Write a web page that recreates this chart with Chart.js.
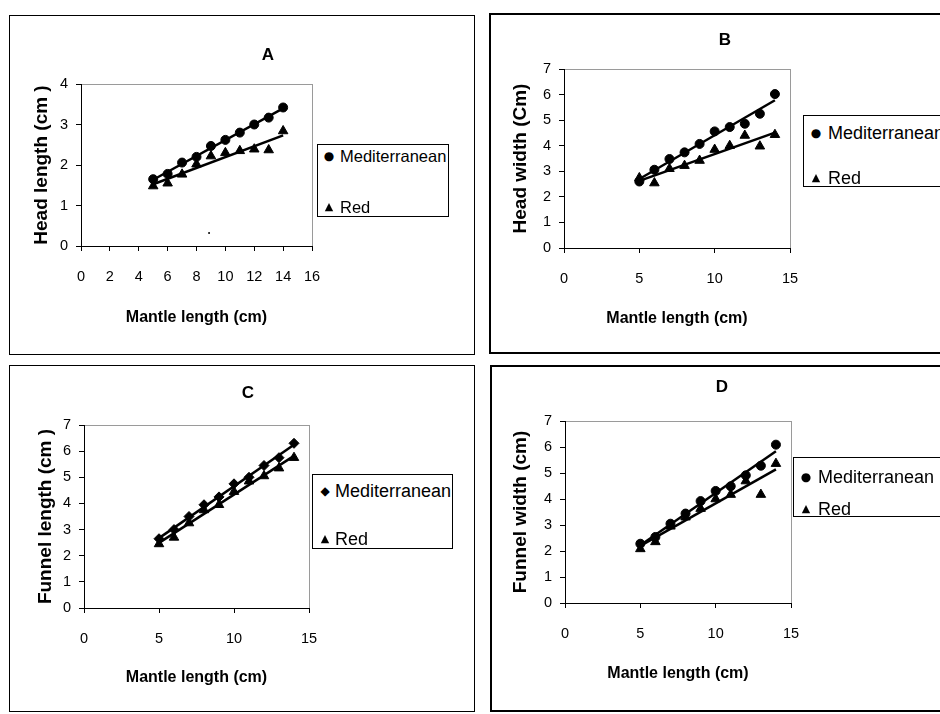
<!DOCTYPE html>
<html>
<head>
<meta charset="utf-8">
<script src="https://cdn.jsdelivr.net/npm/chart.js@4.4.0/dist/chart.umd.min.js"></script>
<style>
  html, body { margin: 0; padding: 0; background: #fff; }
  body { width: 940px; height: 714px; overflow: hidden; position: relative; font-family: "Liberation Sans", Arial, sans-serif; }
  canvas { position: absolute; }
  .frame { position: absolute; box-sizing: border-box; border: 1px solid #000; pointer-events: none; }
  .frame.thick { border-width: 2px; }
  .legend { position: absolute; box-sizing: border-box; border: 1px solid #000; background: #fff; font-size: 18px; color: #000; }
  .row { position: absolute; height: 22px; line-height: 22px; white-space: nowrap; }
  .mk { position: absolute; top: 0; line-height: 22px; font-family: "DejaVu Sans", sans-serif; transform: translateX(-50%); }
</style>
</head>
<body>

<canvas id="chartA"></canvas>
<canvas id="chartB"></canvas>
<canvas id="chartC"></canvas>
<canvas id="chartD"></canvas>

<div class="frame" style="left:9px;top:15px;width:466px;height:340px"></div>
<div class="frame thick" style="left:489px;top:13px;width:470px;height:341px"></div>
<div class="frame" style="left:9px;top:365px;width:466px;height:347px"></div>
<div class="frame thick" style="left:490px;top:365px;width:470px;height:347px"></div>

<div class="legend" style="left:317px;top:144px;width:132px;height:73px;font-size:16.5px">
  <div class="row" style="top:0;left:0"><span class="mk" style="left:11px;font-size:12px">●</span><span style="position:absolute;left:22px">Mediterranean</span></div>
  <div class="row" style="top:51px;left:0"><span class="mk" style="left:11px;font-size:11px">▲</span><span style="position:absolute;left:22px">Red</span></div>
</div>
<div class="legend" style="left:803px;top:115px;width:160px;height:72px">
  <div class="row" style="top:6px;left:0"><span class="mk" style="left:12px;font-size:12px">●</span><span style="position:absolute;left:24px">Mediterranean</span></div>
  <div class="row" style="top:51px;left:0"><span class="mk" style="left:12px;font-size:11px">▲</span><span style="position:absolute;left:24px">Red</span></div>
</div>
<div class="legend" style="left:312px;top:474px;width:141px;height:75px">
  <div class="row" style="top:5px;left:0"><span class="mk" style="left:12px;font-size:12px">◆</span><span style="position:absolute;left:22px">Mediterranean</span></div>
  <div class="row" style="top:53px;left:0"><span class="mk" style="left:12px;font-size:11px">▲</span><span style="position:absolute;left:22px">Red</span></div>
</div>
<div class="legend" style="left:793px;top:457px;width:160px;height:60px">
  <div class="row" style="top:8px;left:0"><span class="mk" style="left:12px;font-size:12px">●</span><span style="position:absolute;left:24px">Mediterranean</span></div>
  <div class="row" style="top:40px;left:0"><span class="mk" style="left:12px;font-size:11px">▲</span><span style="position:absolute;left:24px">Red</span></div>
</div>

<script>
// mantle length (cm), shared x values
const mantle = [5, 6, 7, 8, 9, 10, 11, 12, 13, 14];

// A - head length
const headLenMed = [1.65, 1.78, 2.06, 2.2, 2.47, 2.62, 2.8, 3.0, 3.17, 3.42];
const headLenRed = [1.48, 1.55, 1.77, 2.02, 2.22, 2.3, 2.35, 2.39, 2.37, 2.84];
const speckA = [{x: 8.87, y: 0.32}]; // stray dot in the original scan

// B - head width
const headWidMed = [2.6, 3.06, 3.48, 3.74, 4.07, 4.56, 4.73, 4.86, 5.25, 6.02];
const headWidRed = [2.74, 2.54, 3.1, 3.22, 3.42, 3.85, 4.0, 4.4, 3.98, 4.43];

// C - funnel length
const funLenMed = [2.65, 3.0, 3.5, 3.95, 4.25, 4.75, 5.0, 5.45, 5.75, 6.3];
const funLenRed = [2.45, 2.7, 3.25, 3.75, 3.95, 4.45, 4.85, 5.05, 5.35, 5.75];

// D - funnel width
const funWidMed = [2.28, 2.54, 3.05, 3.44, 3.92, 4.31, 4.49, 4.91, 5.28, 6.09];
const funWidRed = [2.08, 2.35, 2.95, 3.3, 3.63, 4.0, 4.17, 4.69, 4.17, 5.36];

Chart.defaults.font.family = '"Liberation Sans", Arial, sans-serif';
Chart.defaults.color = '#000';

function pts(xs, ys) { return xs.map((x, i) => ({x: x, y: ys[i]})); }

// least squares trendline over the data range (like the Excel trendline)
function trend(xs, ys) {
    let n = xs.length, sx = 0, sy = 0, sxx = 0, sxy = 0;
    for (let i = 0; i < n; i++) { sx += xs[i]; sy += ys[i]; sxx += xs[i] * xs[i]; sxy += xs[i] * ys[i]; }
    let b = (n * sxy - sx * sy) / (n * sxx - sx * sx);
    let a = (sy - b * sx) / n;
    let x0 = Math.min(...xs), x1 = Math.max(...xs);
    return [{x: x0, y: a + b * x0}, {x: x1, y: a + b * x1}];
}

const panelDecor = {
    id: 'panelDecor',
    beforeDraw(chart, args, opts) {
        const {ctx, chartArea: a} = chart;
        ctx.save();
        ctx.strokeStyle = '#9a9a9a';
        ctx.lineWidth = 1;
        ctx.strokeRect(Math.round(a.left) + 0.5, Math.round(a.top) + 0.5, Math.round(a.right - a.left), Math.round(a.bottom - a.top));
        ctx.fillStyle = '#000';
        ctx.font = 'bold 17px "Liberation Sans", Arial, sans-serif';
        ctx.textAlign = 'center';
        ctx.textBaseline = 'middle';
        ctx.fillText(opts.text, opts.x, opts.y);
        ctx.restore();
    }
};

function makeChart(p) {
    const cv = document.getElementById(p.id);
    cv.width = p.w; cv.height = p.h;
    cv.style.left = p.left + 'px'; cv.style.top = p.top + 'px';

    let datasets = [
        {label: 'Mediterranean trend', data: trend(mantle, p.med), showLine: true, pointRadius: 0, borderColor: '#000', borderWidth: 2.5},
        {label: 'Red trend', data: trend(mantle, p.red), showLine: true, pointRadius: 0, borderColor: '#000', borderWidth: 2.5},
        {label: 'Mediterranean', data: pts(mantle, p.med), pointStyle: p.medStyle, pointRadius: p.medR, backgroundColor: '#000', borderColor: '#000', borderWidth: 1},
        {label: 'Red', data: pts(mantle, p.red), pointStyle: 'triangle', pointRadius: 5.5, backgroundColor: '#000', borderColor: '#000', borderWidth: 1}
    ];
    if (p.extra) datasets.push({label: 'dot', data: p.extra, pointRadius: 1, backgroundColor: '#000', borderWidth: 0});

    return new Chart(cv.getContext('2d'), {
        type: 'scatter',
        data: {datasets: datasets},
        options: {
            responsive: false,
            animation: false,
            layout: {padding: {left: 0, top: p.area.t, right: p.w - p.area.r, bottom: 0}},
            scales: {
                x: {
                    type: 'linear', min: 0, max: p.xMax,
                    ticks: {stepSize: p.xStep, color: '#000', font: {size: 14.5}, padding: 17},
                    grid: {drawOnChartArea: false, color: '#000', tickLength: 5},
                    border: {color: '#000'},
                    title: {display: true, text: 'Mantle length (cm)', color: '#000', font: {size: 16, weight: 'bold'}, padding: {top: 0, bottom: p.xtPad}},
                    afterFit(s) { s.height = p.h - p.area.b; }
                },
                y: {
                    type: 'linear', min: 0, max: p.yMax,
                    ticks: {stepSize: 1, color: '#000', font: {size: 14.5}, padding: 8},
                    grid: {drawOnChartArea: false, color: '#000', tickLength: 5},
                    border: {color: '#000'},
                    title: {display: true, text: p.yTitle, color: '#000', font: {size: 19, weight: 'bold'}, padding: {top: p.ytPad, bottom: 0}},
                    afterFit(s) { s.width = p.area.l; }
                }
            },
            plugins: {
                legend: {display: false},
                tooltip: {enabled: false},
                panelDecor: {text: p.title, x: p.tx, y: p.ty}
            }
        },
        plugins: [panelDecor]
    });
}

makeChart({id: 'chartA', left: 9, top: 15, w: 466, h: 340, area: {l: 72, t: 69, r: 303, b: 231},
    xMax: 16, xStep: 2, yMax: 4, med: headLenMed, red: headLenRed, medStyle: 'circle', medR: 4.5, extra: speckA,
    yTitle: 'Head length (cm )', ytPad: 21, xtPad: 28, title: 'A', tx: 259, ty: 40});

makeChart({id: 'chartB', left: 489, top: 13, w: 470, h: 340, area: {l: 75, t: 56, r: 301, b: 235},
    xMax: 15, xStep: 5, yMax: 7, med: headWidMed, red: headWidRed, medStyle: 'circle', medR: 4.5,
    yTitle: 'Head width (Cm)', ytPad: 20, xtPad: 25, title: 'B', tx: 236, ty: 27});

makeChart({id: 'chartC', left: 9, top: 365, w: 466, h: 347, area: {l: 75, t: 60, r: 300, b: 243},
    xMax: 15, xStep: 5, yMax: 7, med: funLenMed, red: funLenRed, medStyle: 'rectRot', medR: 5,
    yTitle: 'Funnel length (cm )', ytPad: 25, xtPad: 25, title: 'C', tx: 239, ty: 28});

makeChart({id: 'chartD', left: 490, top: 365, w: 470, h: 346, area: {l: 75, t: 56, r: 301, b: 238},
    xMax: 15, xStep: 5, yMax: 7, med: funWidMed, red: funWidRed, medStyle: 'circle', medR: 4.5,
    yTitle: 'Funnel width (cm)', ytPad: 19, xtPad: 28, title: 'D', tx: 232, ty: 22});
</script>
</body>
</html>
